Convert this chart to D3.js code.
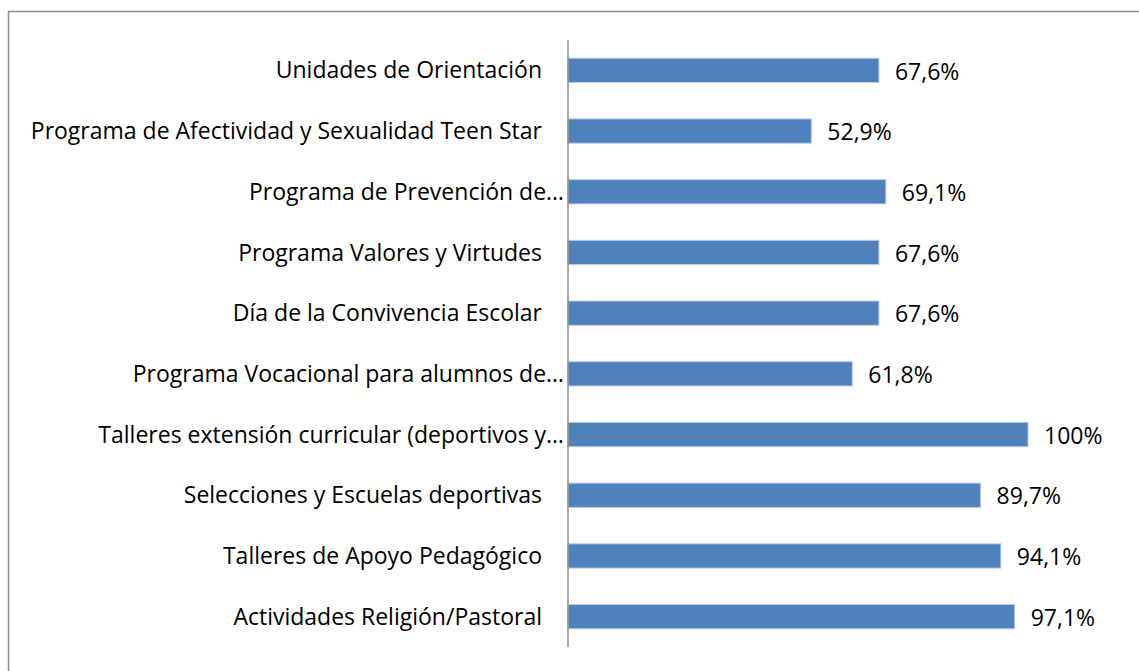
<!DOCTYPE html>
<html>
<head>
<meta charset="utf-8">
<script src="https://cdn.jsdelivr.net/npm/d3@7"></script>
<style>
  body { margin: 0; background: #fff; }
  text { font-family: "Open Sans", sans-serif; fill: #000; }
</style>
</head>
<body>
<div id="chart"></div>
<script>
// categories, top to bottom
const categories = [
  "Unidades de Orientación",
  "Programa de Afectividad y Sexualidad Teen Star",
  "Programa de Prevención de…",
  "Programa Valores y Virtudes",
  "Día de la Convivencia Escolar",
  "Programa Vocacional para alumnos de…",
  "Talleres extensión curricular (deportivos y…",
  "Selecciones y Escuelas deportivas",
  "Talleres de Apoyo Pedagógico",
  "Actividades Religión/Pastoral"
];
const values = [67.6, 52.9, 69.1, 67.6, 67.6, 61.8, 100, 89.7, 94.1, 97.1];
const valueLabels = ["67,6%", "52,9%", "69,1%", "67,6%", "67,6%", "61,8%", "100%", "89,7%", "94,1%", "97,1%"];

const W = 1139, H = 671;
const svg = d3.select("#chart").append("svg")
  .attr("width", W).attr("height", H);

// outer frame (runs off the right and bottom edge)
svg.append("rect")
  .attr("x", 8.5).attr("y", 11.5)
  .attr("width", W + 20).attr("height", H + 20)
  .attr("fill", "none").attr("stroke", "#8c8c8c").attr("stroke-width", 1.5);

const x = d3.scaleLinear().domain([0, 100]).range([568, 1028]);
const y = d3.scaleBand().domain(categories).range([40, 647]).paddingInner(0.6).paddingOuter(0.3);

svg.selectAll(".bar")
  .data(categories)
  .enter().append("rect")
    .attr("class", "bar")
    .attr("x", x(0))
    .attr("y", d => y(d))
    .attr("width", (d, i) => x(values[i]) - x(0))
    .attr("height", y.bandwidth())
    .attr("fill", "#4f81bd")
    .attr("stroke", "#b9cde5").attr("stroke-width", 1);

// category axis line
svg.append("line")
  .attr("x1", x(0)).attr("x2", x(0))
  .attr("y1", 40).attr("y2", 647)
  .attr("stroke", "#8c8c8c").attr("stroke-width", 1.5);

svg.selectAll(".cat")
  .data(categories)
  .enter().append("text")
    .attr("class", "cat")
    .attr("x", d => d.endsWith("…") ? x(0) - 4 : x(0) - 26)
    .attr("y", d => y(d) + y.bandwidth() / 2)
    .attr("dy", "0.35em")
    .attr("text-anchor", "end")
    .attr("font-size", 23)
    .text(d => d);

svg.selectAll(".val")
  .data(categories)
  .enter().append("text")
    .attr("class", "val")
    .attr("x", (d, i) => x(values[i]) + 16)
    .attr("y", d => y(d) + y.bandwidth() / 2)
    .attr("dy", "0.4em")
    .attr("font-size", 23)
    .text((d, i) => valueLabels[i]);
</script>
</body>
</html>
